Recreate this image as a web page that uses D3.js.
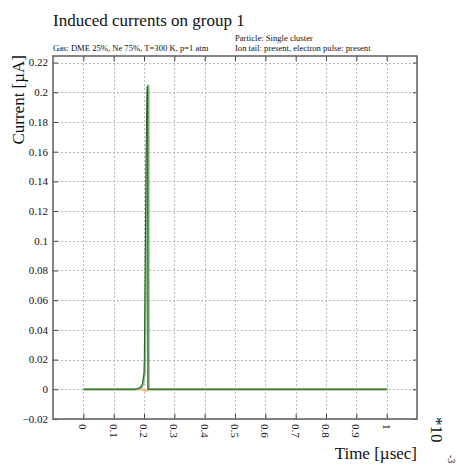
<!DOCTYPE html>
<html>
<head>
<meta charset="utf-8">
<script src="https://cdn.jsdelivr.net/npm/d3@7"></script>
<style>
  html, body { margin: 0; padding: 0; background: #fff; }
  svg { display: block; }
  text { font-family: "Liberation Serif", "DejaVu Serif", serif; fill: #111; }
</style>
</head>
<body>
<svg id="chart" width="457" height="465"></svg>
<script>
// Time samples in units of 1e-3 µsec
const times = [0, 0.05, 0.1, 0.15, 0.17, 0.18, 0.19, 0.195, 0.2, 0.201, 0.203, 0.205, 0.207, 0.209, 0.2105, 0.2115, 0.2122, 0.2128, 0.25, 0.3, 0.4, 0.5, 0.6, 0.7, 0.8, 0.9, 1.0];
// Electron pulse current [µA]
const electronCurrent = [0, 0, 0, 0, 0, 0.0004, 0.0015, 0.004, 0.011, 0.02, 0.06, 0.11, 0.16, 0.19, 0.2045, 0.2045, 0.2, 0, 0, 0, 0, 0, 0, 0, 0, 0, 0];
// Ion tail current [µA]
const ionCurrent = [0, 0, 0, 0, 0, 0, 0, -0.0002, -0.0005, -0.0006, -0.0007, -0.0008, -0.0008, -0.0008, -0.0008, -0.0007, -0.0006, 0, 0, 0, 0, 0, 0, 0, 0, 0, 0];
// Total induced current = electron pulse + ion tail
const totalCurrent = electronCurrent.map((v, i) => v + ionCurrent[i]);

const xTicks = [0, 0.1, 0.2, 0.3, 0.4, 0.5, 0.6, 0.7, 0.8, 0.9, 1];
const yTicks = [-0.02, 0, 0.02, 0.04, 0.06, 0.08, 0.1, 0.12, 0.14, 0.16, 0.18, 0.2, 0.22];

const svg = d3.select("#chart");
const frameL = 53, frameR = 417, frameT = 56, frameB = 419;

const x = d3.scaleLinear().domain([-0.1, 1.1]).range([frameL, frameR]);
const y = d3.scaleLinear().domain([-0.02, 0.2244]).range([frameB, frameT]);

// Titles
svg.append("text").attr("x", 53).attr("y", 26).attr("font-size", 17).text("Induced currents on group 1");
svg.append("text").attr("x", 53).attr("y", 51).attr("font-size", 8.6).text("Gas: DME 25%, Ne 75%, T=300 K, p=1 atm");
svg.append("text").attr("x", 235).attr("y", 41).attr("font-size", 8.6).text("Particle: Single cluster");
svg.append("text").attr("x", 235).attr("y", 51).attr("font-size", 8.6).text("Ion tail: present, electron pulse: present");

// Grid
const grid = svg.append("g").attr("stroke", "#b8b8b8").attr("stroke-width", 1).attr("stroke-dasharray", "2,2");
grid.selectAll("line.gx").data(xTicks).join("line").attr("class", "gx")
  .attr("x1", d => Math.round(x(d)) + 0.5).attr("x2", d => Math.round(x(d)) + 0.5)
  .attr("y1", frameT).attr("y2", frameB);
grid.selectAll("line.gy").data(yTicks).join("line").attr("class", "gy")
  .attr("y1", d => Math.round(y(d)) + 0.5).attr("y2", d => Math.round(y(d)) + 0.5)
  .attr("x1", frameL).attr("x2", frameR);

// Axes with inward ticks
const axisL = d3.axisRight(y).tickValues(yTicks).tickSize(5).tickFormat("");
const axisR = d3.axisLeft(y).tickValues(yTicks).tickSize(4).tickFormat("");
const axisB = d3.axisTop(x).tickValues(xTicks).tickSize(5).tickFormat("");
const axisT = d3.axisBottom(x).tickValues(xTicks).tickSize(5).tickFormat("");

function styleAxis(g) {
  g.select(".domain").remove();
  g.selectAll(".tick line").attr("stroke", "#444").attr("stroke-width", 1);
}
svg.append("g").attr("transform", `translate(${frameL},0)`).call(axisL).call(styleAxis);
svg.append("g").attr("transform", `translate(${frameR},0)`).call(axisR).call(styleAxis);
svg.append("g").attr("transform", `translate(0,${frameB})`).call(axisB).call(styleAxis);
svg.append("g").attr("transform", `translate(0,${frameT})`).call(axisT).call(styleAxis);

// Frame
svg.append("rect").attr("x", frameL).attr("y", frameT).attr("width", frameR - frameL).attr("height", frameB - frameT)
  .attr("fill", "none").attr("stroke", "#666").attr("stroke-width", 1.6);

// Y tick labels
const fmt = d => d3.format("~g")(d);
svg.append("g").selectAll("text").data(yTicks).join("text")
  .attr("x", 48).attr("y", d => y(d)).attr("dy", "0.35em")
  .attr("text-anchor", "end").attr("font-size", 11).text(fmt);

// X tick labels, rotated
svg.append("g").selectAll("text").data(xTicks).join("text")
  .attr("transform", d => `translate(${x(d)},${frameB + 5}) rotate(90)`)
  .attr("dy", "0.35em").attr("text-anchor", "start").attr("font-size", 11).text(fmt);

// Axis titles
svg.append("text").attr("transform", "translate(24,55) rotate(-90)")
  .attr("text-anchor", "end").attr("font-size", 17).text("Current [µA]");
svg.append("text").attr("x", 417).attr("y", 459)
  .attr("text-anchor", "end").attr("font-size", 17).text("Time [µsec]");

// Exponent of the time axis
svg.append("text").attr("transform", "translate(431,417) rotate(90)")
  .attr("font-size", 17).text("*10");
svg.append("text").attr("transform", "translate(448,455) rotate(90)")
  .attr("font-size", 10).text("-3");

// Curves
const line = vals => d3.line().x((d, i) => x(times[i])).y(d => y(d))(vals);
const curves = svg.append("g").attr("fill", "none").attr("stroke-linejoin", "round");
curves.append("path").attr("d", line(ionCurrent)).attr("stroke", "#f5bd85").attr("stroke-width", 2.5);
curves.append("path").attr("d", line(electronCurrent)).attr("stroke", "#86c486").attr("stroke-width", 2.2).attr("transform", "translate(0.8,0)");
curves.append("path").attr("d", line(totalCurrent)).attr("stroke", "#2f5f2f").attr("stroke-width", 1.1);
</script>
</body>
</html>
